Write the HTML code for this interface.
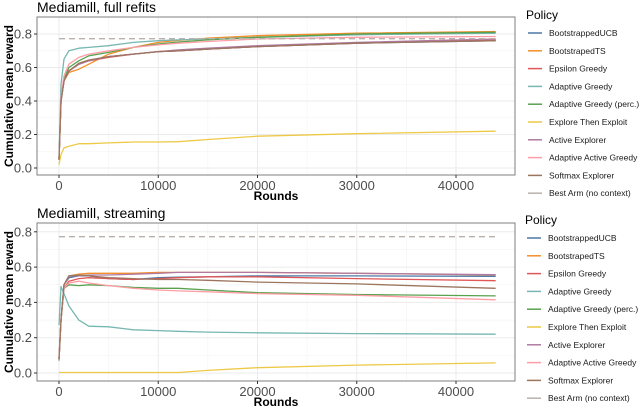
<!DOCTYPE html>
<html><head><meta charset="utf-8"><style>
html,body{margin:0;padding:0;background:#fff;}
svg{display:block;font-family:"Liberation Sans",sans-serif;}
</style></head><body>
<svg id="chart" width="640" height="408" xmlns="http://www.w3.org/2000/svg"></svg>
<script>
const xRounds=[0,200,500,1000,2000,3000,5000,7500,10000,12000,15000,20000,30000,44000];
const policies=["BootstrappedUCB","BootstrapedTS","Epsilon Greedy","Adaptive Greedy","Adaptive Greedy (perc.)","Explore Then Exploit","Active Explorer","Adaptive Active Greedy","Softmax Explorer","Best Arm (no context)"];
const colors=["#4E79A7","#F28E2B","#E15759","#76B7B2","#59A14F","#EDC948","#B07AA1","#FF9DA7","#9C755F","#BAB0AC"];
const xTicks=[0,10000,20000,30000,40000];
const yTicks=[0,0.2,0.4,0.6,0.8];
// full refits
const refitUCB=[0.05,0.4,0.52,0.58,0.62,0.64,0.665,0.68,0.695,0.70,0.71,0.725,0.745,0.76];
const refitTS=[0.05,0.4,0.52,0.57,0.59,0.62,0.68,0.72,0.75,0.762,0.775,0.79,0.805,0.815];
const refitEps=[0.05,0.4,0.52,0.58,0.62,0.64,0.66,0.68,0.695,0.70,0.71,0.725,0.745,0.765];
const refitAG=[0.06,0.5,0.65,0.7,0.715,0.72,0.73,0.75,0.76,0.765,0.77,0.78,0.795,0.805];
const refitPerc=[0.05,0.4,0.53,0.6,0.64,0.67,0.69,0.72,0.74,0.752,0.765,0.78,0.8,0.81];
const refitETE=[0.02,0.08,0.12,0.13,0.145,0.145,0.15,0.155,0.155,0.157,0.17,0.19,0.205,0.22];
const refitAE=[0.05,0.4,0.52,0.58,0.62,0.64,0.665,0.68,0.695,0.705,0.715,0.73,0.75,0.77];
const refitAAG=[0.05,0.42,0.55,0.62,0.66,0.68,0.7,0.72,0.735,0.745,0.755,0.77,0.78,0.785];
const refitSoft=[0.05,0.4,0.52,0.58,0.625,0.645,0.665,0.68,0.695,0.70,0.71,0.725,0.745,0.76];
const refitBest=[0.772,0.772,0.772,0.772,0.772,0.772,0.772,0.772,0.772,0.772,0.772,0.772,0.772,0.772];
// streaming
const streamUCB=[0.08,0.3,0.5,0.54,0.55,0.55,0.535,0.53,0.54,0.543,0.545,0.55,0.55,0.548];
const streamTS=[0.08,0.3,0.5,0.55,0.56,0.565,0.565,0.565,0.57,0.57,0.57,0.57,0.565,0.555];
const streamEps=[0.08,0.3,0.48,0.52,0.535,0.54,0.535,0.53,0.535,0.54,0.545,0.545,0.535,0.523];
const streamAG=[0.27,0.49,0.45,0.38,0.3,0.265,0.262,0.245,0.24,0.236,0.232,0.228,0.223,0.22];
const streamPerc=[0.07,0.3,0.48,0.5,0.495,0.5,0.495,0.485,0.48,0.48,0.47,0.455,0.445,0.437];
const streamETE=[0.003,0.003,0.003,0.003,0.003,0.003,0.003,0.003,0.003,0.003,0.015,0.03,0.045,0.057];
const streamAE=[0.08,0.3,0.5,0.55,0.55,0.555,0.555,0.56,0.565,0.57,0.57,0.57,0.565,0.557];
const streamAAG=[0.08,0.3,0.48,0.51,0.52,0.51,0.495,0.48,0.47,0.465,0.46,0.45,0.44,0.415];
const streamSoft=[0.08,0.3,0.5,0.55,0.555,0.55,0.54,0.535,0.53,0.53,0.525,0.515,0.505,0.48];
const streamBest=[0.772,0.772,0.772,0.772,0.772,0.772,0.772,0.772,0.772,0.772,0.772,0.772,0.772,0.772];

const NS="http://www.w3.org/2000/svg";
const svg=document.getElementById('chart');
function mk(tag,attrs,parent){const e=document.createElementNS(NS,tag);for(const k in attrs)e.setAttribute(k,attrs[k]);(parent||svg).appendChild(e);return e;}

function panel(cfg){
  const g=mk('g',{});
  
  
  const sx=v=>59+v*(397/40000);
  const sy=v=>cfg.y0-v*cfg.k;
  mk('rect',{x:37,y:cfg.top,width:478,height:cfg.bottom-cfg.top,fill:'#fff'},g);
  [5000,15000,25000,35000].forEach(v=>{mk('line',{x1:sx(v),x2:sx(v),y1:cfg.top,y2:cfg.bottom,stroke:'#f3f3f3','stroke-width':0.6},g);});
  [0.1,0.3,0.5,0.7].forEach(v=>{mk('line',{x1:37,x2:515,y1:sy(v),y2:sy(v),stroke:'#f3f3f3','stroke-width':0.6},g);});
  xTicks.forEach(v=>{mk('line',{x1:sx(v),x2:sx(v),y1:cfg.top,y2:cfg.bottom,stroke:'#ebebeb','stroke-width':1},g);});
  yTicks.forEach(v=>{mk('line',{x1:37,x2:515,y1:sy(v),y2:sy(v),stroke:'#ebebeb','stroke-width':1},g);});
  cfg.series.forEach((s,i)=>{
    const d=xRounds.map((x,j)=>(j?'L':'M')+sx(x).toFixed(1)+','+sy(s[j]).toFixed(1)).join('');
    const p=mk('path',{d:d,fill:'none',stroke:colors[i],'stroke-width':1.3,'stroke-dasharray':i===9?'6,4':'none','stroke-linejoin':'round'},g);
    
    
  });
  mk('rect',{x:37,y:cfg.top,width:478,height:cfg.bottom-cfg.top,fill:'none',stroke:'#7f7f7f','stroke-width':1},g);
  yTicks.forEach(v=>{
    mk('line',{x1:34,x2:37,y1:sy(v),y2:sy(v),stroke:'#333'},g);
    const t=mk('text',{x:32,y:sy(v)+4.5,'text-anchor':'end','font-size':13,fill:'#4d4d4d'},g);t.textContent=v.toFixed(1);
    
    
  });
  xTicks.forEach(v=>{
    mk('line',{x1:sx(v),x2:sx(v),y1:cfg.bottom,y2:cfg.bottom+3,stroke:'#333'},g);
    const t=mk('text',{x:sx(v),y:cfg.bottom+15,'text-anchor':'middle','font-size':13,fill:'#4d4d4d'},g);t.textContent=v;
    
    
  });
  const tt=mk('text',{x:37,y:cfg.top-5,'font-size':14,fill:'#000'},g);tt.textContent=cfg.title;
  
  
  const xt=mk('text',{x:276,y:cfg.bottom+25,'text-anchor':'middle','font-size':12,'font-weight':'bold'},g);xt.textContent='Rounds';
  
  
  const cy=(cfg.top+cfg.bottom)/2;
  const yt=mk('text',{x:0,y:0,transform:'translate(13,'+cy+') rotate(-90)','text-anchor':'middle','font-size':12,'font-weight':'bold'},g);yt.textContent='Cumulative mean reward';
  
  
  const lg=mk('g',{},g);
  
  
  const lt=mk('text',{x:cfg.lx-2,y:cfg.ly-14,'font-size':12},lg);lt.textContent='Policy';
  policies.forEach((p,i)=>{
    const y=cfg.ly+i*17.8;
    mk('line',{x1:cfg.lx,x2:cfg.lx+14,y1:y,y2:y,stroke:colors[i],'stroke-width':1.5},lg);
    const t=mk('text',{x:cfg.lx+21,y:y+3,'font-size':8.5,fill:'#1a1a1a'},lg);t.textContent=p;
    
    
  });
}
panel({name:'panel-full-refits',title:'Mediamill, full refits',top:17,bottom:175,y0:168,k:167.5,lx:528,ly:33,
  series:[refitUCB,refitTS,refitEps,refitAG,refitPerc,refitETE,refitAE,refitAAG,refitSoft,refitBest]});
panel({name:'panel-streaming',title:'Mediamill, streaming',top:223,bottom:381,y0:373,k:176.5,lx:527,ly:238,
  series:[streamUCB,streamTS,streamEps,streamAG,streamPerc,streamETE,streamAE,streamAAG,streamSoft,streamBest]});
</script>
</body></html>
